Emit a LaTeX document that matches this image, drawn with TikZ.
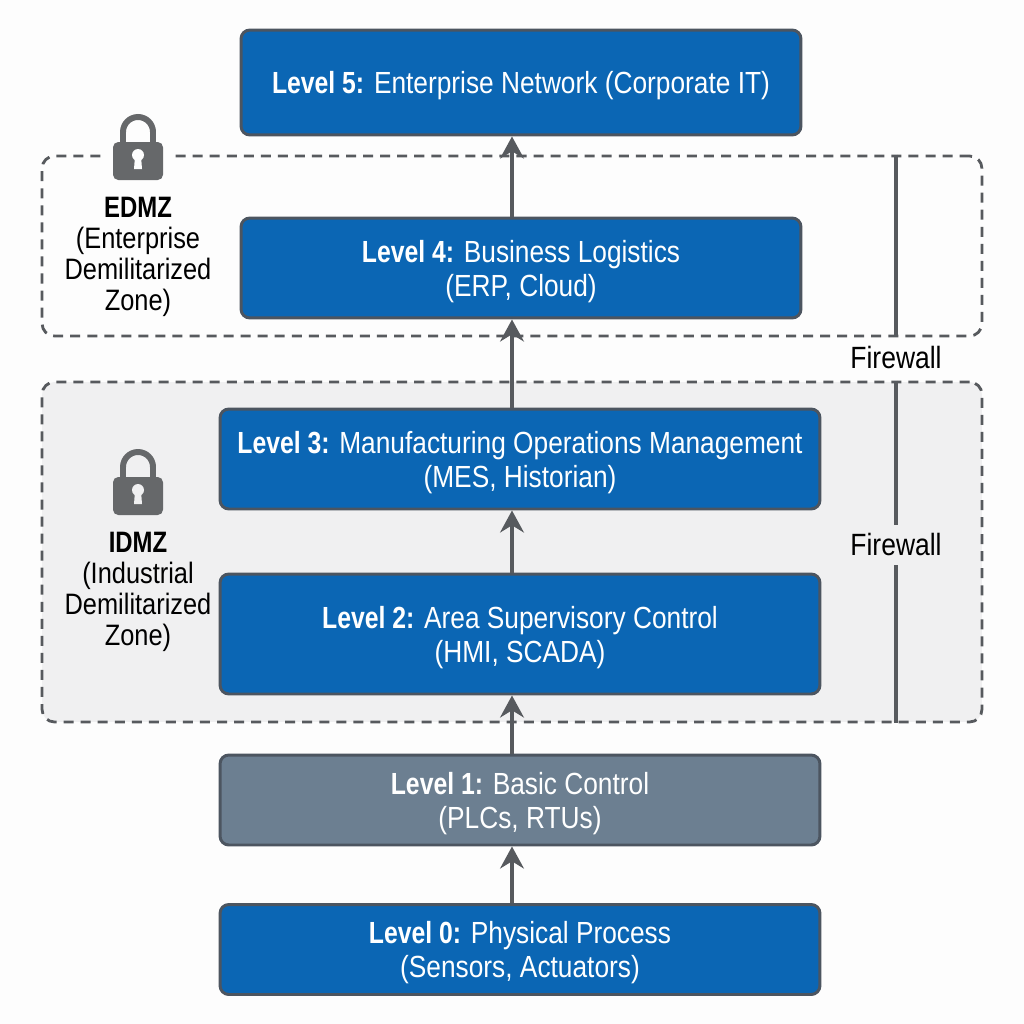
\documentclass[tikz,border=0pt]{standalone}
\usepackage{fontspec}
\setmainfont[FakeStretch=0.86, BoldFeatures={FakeStretch=0.81}]{Liberation Sans}
\usepackage{xcolor}
\definecolor{levelBlue}{HTML}{0B66B4}
\definecolor{levelGray}{HTML}{6C7F91}
\definecolor{edgeGray}{HTML}{4C5560}
\definecolor{lineGray}{HTML}{575A5E}
\definecolor{lockGray}{HTML}{66686A}
\definecolor{zoneGray}{HTML}{F0F0F1}
\definecolor{pageWhite}{HTML}{FDFDFD}
\usetikzlibrary{arrows.meta}

\tikzset{
	level/.style={draw=edgeGray, line width=1.7pt, rounded corners=5pt, text=white, align=center, inner sep=0pt,
		text depth=0pt, font=\fontsize{17.4}{19.4}\selectfont},
	zone/.style={draw=lineGray, line width=1.6pt, rounded corners=7pt, dash pattern=on 5.7pt off 4pt, inner sep=0pt},
	flow/.style={draw=lineGray, line width=2.2pt, -{Stealth[length=12.5pt, width=13.5pt]}},
	wall/.style={draw=lineGray, line width=2.2pt},
	sidetext/.style={align=center, inner sep=0pt, text depth=0pt, font=\fontsize{16.8}{17.6}\selectfont},
	walltext/.style={inner sep=0pt, font=\fontsize{17.5}{17.6}\selectfont},
	pics/lockicon/.style={code={
		\fill[#1] (-33,-24) rectangle (33,42); % clears the dashes behind it
		\draw[lockGray, line width=3.4pt] (-15,-2) -- (-15,-12) arc[start angle=180, end angle=360, x radius=15, y radius=15] -- (15,-2);
		\fill[lockGray, rounded corners=3pt] (-25,-2) rectangle (25,36);
		\fill[#1] (0,11) circle (6);
		\fill[#1] (-3,12) -- (3,12) -- (4,25) -- (-4,25) -- cycle;
	}},
}

\begin{document}
\begin{tikzpicture}[x=0.02cm, y=-0.02cm]
	\fill[pageWhite] (0,0) rectangle (1024,1024);
	\useasboundingbox (0,0) rectangle (1024,1024);

	% Zones
	\node[zone, minimum width=18.8cm, minimum height=3.6cm] (edmz) at (512,246) {};
	\node[zone, fill=zoneGray, minimum width=18.8cm, minimum height=6.8cm] (idmz) at (512,552) {};

	% Locks
	\pic at (138,144) {lockicon=pageWhite};
	\pic at (138,479) {lockicon=zoneGray};

	% Zone labels
	\node[sidetext] (edmzlabel) at (138,254) {\textbf{EDMZ}\\(Enterprise\\Demilitarized\\Zone)};
	\node[sidetext] (idmzlabel) at (138,589) {\textbf{IDMZ}\\(Industrial\\Demilitarized\\Zone)};

	% Levels
	\node[level, fill=levelBlue, minimum width=11.2cm, minimum height=2.1cm] (l5) at (521,82.5) {\textbf{Level 5:} Enterprise Network (Corporate IT)};
	\node[level, fill=levelBlue, minimum width=11.2cm, minimum height=2cm] (l4) at (521,268) {\textbf{Level 4:} Business Logistics\\(ERP, Cloud)};
	\node[level, fill=levelBlue, minimum width=12cm, minimum height=2cm] (l3) at (520,459) {\textbf{Level 3:} Manufacturing Operations Management\\(MES, Historian)};
	\node[level, fill=levelBlue, minimum width=12cm, minimum height=2.4cm] (l2) at (520,634) {\textbf{Level 2:} Area Supervisory Control\\(HMI, SCADA)};
	\node[level, fill=levelGray, minimum width=12cm, minimum height=1.8cm] (l1) at (520,800) {\textbf{Level 1:} Basic Control\\(PLCs, RTUs)};
	\node[level, fill=levelBlue, minimum width=12cm, minimum height=1.8cm] (l0) at (520,949.5) {\textbf{Level 0:} Physical Process\\(Sensors, Actuators)};

	% Mappings between levels
	\coordinate (axis) at (512,0);
	\foreach \a/\b in {l0/l1, l1/l2, l2/l3, l3/l4, l4/l5}
	\draw[flow] (\a.north -| axis) -- (\b.south -| axis);

	% Firewalls
	\coordinate (wallaxis) at (896,0);
	\node[walltext] (fwa) at (896,358) {Firewall};
	\node[walltext] (fwb) at (896,545) {Firewall};
	\draw[wall] (edmz.north -| wallaxis) -- (edmz.south -| wallaxis);
	\draw[wall] (idmz.north -| wallaxis) -- ([yshift=5pt]fwb.north -| wallaxis);
	\draw[wall] ([yshift=-5pt]fwb.south -| wallaxis) -- (idmz.south -| wallaxis);
\end{tikzpicture}
\end{document}
